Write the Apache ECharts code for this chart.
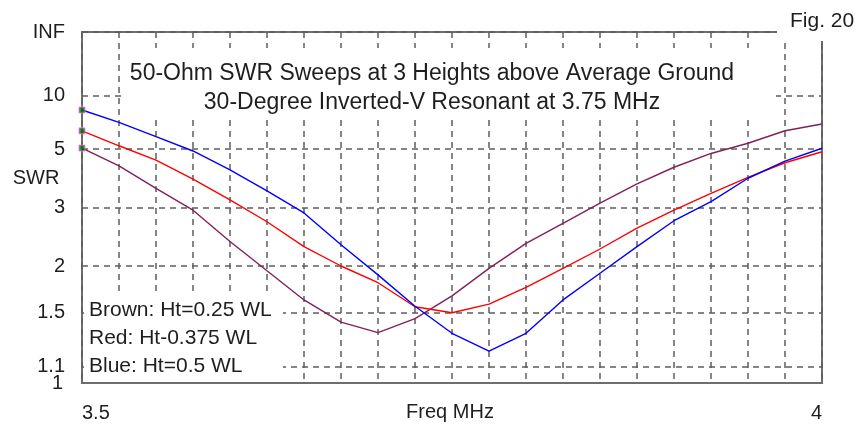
<!DOCTYPE html>
<html>
<head>
<meta charset="utf-8">
<script src="https://cdn.jsdelivr.net/npm/echarts@6/dist/echarts.min.js"></script>
<style>
  html, body { margin: 0; padding: 0; background: #fff; }
  #chart { width: 865px; height: 425px; }
</style>
</head>
<body>
<div id="chart"></div>
<script>
// Frequency sweep points (MHz)
const freqs = [3.5, 3.525, 3.55, 3.575, 3.6, 3.625, 3.65, 3.675, 3.7, 3.725, 3.75,
               3.775, 3.8, 3.825, 3.85, 3.875, 3.9, 3.925, 3.95, 3.975, 4.0];

// 50-ohm SWR at each frequency for the three antenna heights
const swrBrown = [5.05, 4.24, 3.49, 2.94, 2.35, 1.94, 1.62, 1.42, 1.335, 1.45, 1.66,
                  1.97, 2.32, 2.67, 3.10, 3.62, 4.19, 4.78, 5.31, 6.11, 6.63];
const swrRed   = [6.10, 5.17, 4.48, 3.77, 3.18, 2.70, 2.27, 2.00, 1.80, 1.555, 1.50,
                  1.58, 1.75, 1.97, 2.235, 2.58, 2.94, 3.35, 3.83, 4.37, 4.86];
const swrBlue  = [8.00, 6.77, 5.71, 4.90, 4.09, 3.42, 2.88, 2.30, 1.89, 1.56, 1.33,
                  1.20, 1.33, 1.62, 1.91, 2.27, 2.72, 3.14, 3.80, 4.44, 5.04];

// SWR scale tick labels and their SWR values (the bottom "1" sits on its own axis
// so it is not dropped for crowding the "1.1" label)
const swrTickLabels = ['INF', '10', '5', '3', '2', '1.5', '1.1'];
const swrTickValues = [Infinity, 10, 5, 3, 2, 1.5, 1.1];
const swrBaseLabel = '1';
const swrBaseValue = 1;

const xTickLabels = [3.5, 4];

const titleLines = ['50-Ohm SWR Sweeps at 3 Heights above Average Ground',
                    '30-Degree Inverted-V Resonant at 3.75 MHz'];
const legendLines = ['Brown: Ht=0.25 WL', 'Red: Ht-0.375 WL', 'Blue: Ht=0.5 WL'];

// The vertical scale is linear in reflection coefficient |rho| = (SWR-1)/(SWR+1)
function rho(s) { return s === Infinity ? 1 : (s - 1) / (s + 1); }
const tickRho = swrTickValues.map(rho);

function pairs(vals) { return freqs.map((f, i) => [f, rho(vals[i])]); }

const FONT = '"Liberation Sans", Arial, sans-serif';
const TXT = '#1e1e1e';
const GRID_LINE = { color: '#5e5e5e', width: 1.5, type: [6, 5] };

const chart = echarts.init(document.getElementById('chart'), null, { renderer: 'canvas' });

chart.setOption({
  animation: false,
  backgroundColor: '#fff',
  grid: {
    left: 82, right: 43, top: 32, bottom: 42,
    show: true, borderColor: '#6e6e6e', borderWidth: 2, backgroundColor: 'transparent'
  },
  xAxis: {
    type: 'value', min: 3.5, max: 4, interval: 0.025,
    axisLine: { show: false }, axisTick: { show: false },
    splitLine: { show: true, lineStyle: GRID_LINE },
    axisLabel: {
      customValues: xTickLabels,
      margin: 20, fontSize: 20, fontFamily: FONT, color: TXT,
      alignMinLabel: 'left', alignMaxLabel: 'right',
      formatter: v => String(v)
    }
  },
  yAxis: [
    {
      type: 'value', min: 0, max: 1,
      axisLine: { show: false },
      axisTick: { show: false, customValues: tickRho },
      splitLine: { show: true, lineStyle: GRID_LINE },
      axisLabel: {
        customValues: tickRho,
        showMinLabel: true, showMaxLabel: true,
        margin: 17, fontSize: 20, fontFamily: FONT, color: TXT,
        formatter: v => {
          const i = tickRho.findIndex(r => Math.abs(r - v) < 1e-9);
          return i >= 0 ? swrTickLabels[i] : '';
        }
      }
    },
    {
      type: 'value', min: 0, max: 1, position: 'left',
      axisLine: { show: false },
      axisTick: { show: false, customValues: [rho(swrBaseValue)] },
      splitLine: { show: false },
      axisLabel: {
        customValues: [rho(swrBaseValue)],
        showMinLabel: true,
        margin: 19, fontSize: 20, fontFamily: FONT, color: TXT,
        formatter: () => swrBaseLabel
      }
    }
  ],
  series: [
    { type: 'line', data: pairs(swrBrown), symbol: 'none', z: 5,
      lineStyle: { color: '#842058', width: 1.4 } },
    { type: 'line', data: pairs(swrRed), symbol: 'none', z: 5,
      lineStyle: { color: '#ff0000', width: 1.4 } },
    { type: 'line', data: pairs(swrBlue), symbol: 'none', z: 5,
      lineStyle: { color: '#0000ff', width: 1.4 } },
    { type: 'scatter', z: 6, symbol: 'rect', symbolSize: 6,
      itemStyle: { color: '#0b6a0b', borderColor: '#ff70ff', borderWidth: 1 },
      data: [pairs(swrBrown)[0], pairs(swrRed)[0], pairs(swrBlue)[0]] }
  ],
  graphic: [
    // title panel
    { type: 'rect', z: 3, shape: { x: 121, y: 48, width: 655, height: 70 }, style: { fill: '#fff' } },
    { type: 'text', z: 4, x: 432, y: 73.5,
      style: { text: titleLines[0], font: '23px ' + FONT, fill: TXT, align: 'center', verticalAlign: 'middle' } },
    { type: 'text', z: 4, x: 432, y: 103,
      style: { text: titleLines[1], font: '23px ' + FONT, fill: TXT, align: 'center', verticalAlign: 'middle' } },
    // legend panel
    { type: 'rect', z: 3, shape: { x: 84, y: 292, width: 199, height: 88 }, style: { fill: '#fff' } },
    { type: 'text', z: 4, x: 89, y: 310,
      style: { text: legendLines[0], font: '21px ' + FONT, fill: TXT, align: 'left', verticalAlign: 'middle' } },
    { type: 'text', z: 4, x: 89, y: 338,
      style: { text: legendLines[1], font: '21px ' + FONT, fill: TXT, align: 'left', verticalAlign: 'middle' } },
    { type: 'text', z: 4, x: 89, y: 366,
      style: { text: legendLines[2], font: '21px ' + FONT, fill: TXT, align: 'left', verticalAlign: 'middle' } },
    // figure tag breaks the top-right corner of the frame
    { type: 'rect', z: 3, shape: { x: 777, y: 18, width: 50, height: 23 }, style: { fill: '#fff' } },
    { type: 'text', z: 4, x: 790, y: 21,
      style: { text: 'Fig. 20', font: '21px ' + FONT, fill: TXT, align: 'left', verticalAlign: 'middle' } },
    // axis titles
    { type: 'text', z: 4, x: 36, y: 178,
      style: { text: 'SWR', font: '20px ' + FONT, fill: TXT, align: 'center', verticalAlign: 'middle' } },
    { type: 'text', z: 4, x: 450, y: 412.5,
      style: { text: 'Freq MHz', font: '20px ' + FONT, fill: TXT, align: 'center', verticalAlign: 'middle' } }
  ]
});
</script>
</body>
</html>
